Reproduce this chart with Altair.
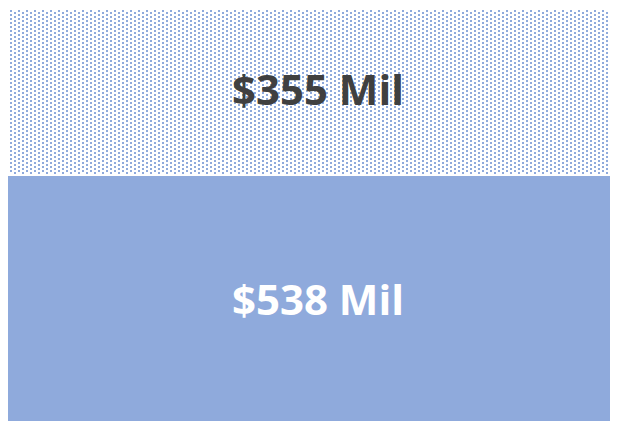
import altair as alt
import pandas as pd

# Data
segments = ["bottom", "top"]
values = [538, 355]
labels = ["$538 Mil", "$355 Mil"]
label_colors = ["#FFFFFF", "#404040"]
fills = ["#8FAADC", "#FFFFFF"]

W, H = 602, 412
DOT_COLS, DOT_ROWS = 151, 42

df = pd.DataFrame({"seg": segments, "value": values, "label": labels,
                   "tcolor": label_colors, "fill": fills})
df["upper"] = df["value"].cumsum()
df["lower"] = df["upper"] - df["value"]
df["mid"] = (df["upper"] + df["lower"]) / 2
total = int(df["upper"].iloc[-1])

YMIN = 17
yscale = alt.Scale(domain=[YMIN, total], clamp=True, nice=False, zero=False)

bars = alt.Chart(df).mark_rect(strokeWidth=0).encode(
    x=alt.value(0), x2=alt.value(W),
    y=alt.Y("lower:Q", scale=yscale, axis=None),
    y2="upper:Q",
    fill=alt.Fill("fill:N", scale=None, legend=None),
)

top_px = (total - values[0]) / (total - YMIN) * H

dots = alt.Chart(alt.sequence(0, DOT_COLS * DOT_ROWS, as_="k")).transform_calculate(
    i="floor(datum.k / %d)" % DOT_ROWS,
    j="datum.k %% %d" % DOT_ROWS,
).transform_calculate(
    px="4 * datum.i + 2",
    py="4 * datum.j + 1 + 2 * (datum.i % 2)",
).transform_calculate(
    px2="datum.px + 2",
    py2="datum.py + 2",
).transform_filter(
    "datum.py2 <= %f && datum.px2 <= %d" % (top_px - 0.5, W)
).mark_rect(color="#8FAADC", strokeWidth=0).encode(
    x=alt.X("px:Q", scale=alt.Scale(domain=[0, W], nice=False, zero=False), axis=None),
    x2="px2:Q",
    y=alt.Y("py:Q", scale=alt.Scale(domain=[H, 0], nice=False, zero=False), axis=None),
    y2="py2:Q",
)

texts = alt.Chart(df).mark_text(
    font="Open Sans", fontWeight="bold", fontSize=42, baseline="middle", align="center", dx=9
).encode(
    x=alt.value(W / 2),
    y=alt.Y("mid:Q", scale=yscale, axis=None),
    text="label:N",
    color=alt.Color("tcolor:N", scale=None, legend=None),
)

chart = alt.layer(bars, dots, texts).resolve_scale(
    x="independent", y="independent"
).properties(
    width=W, height=H,
    padding={"left": 0, "top": 1, "right": 0, "bottom": 0},
    autosize=alt.AutoSizeParams(type="none"),
).configure_view(stroke=None).configure(background="white")

chart.save("out.html", embed_options={"renderer": "svg", "actions": False})
